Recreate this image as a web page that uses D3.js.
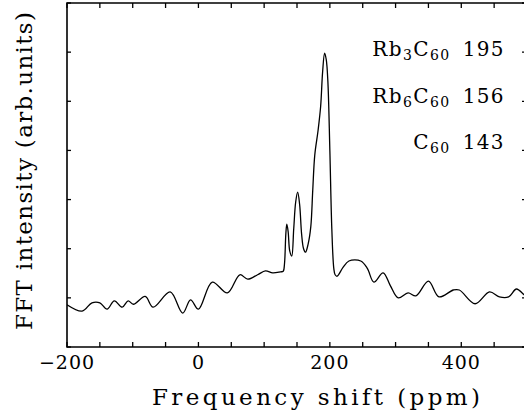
<!DOCTYPE html>
<html><head><meta charset="utf-8">
<script src="https://cdn.jsdelivr.net/npm/d3@7"></script>
<style>body{margin:0;background:#fff}svg{display:block}</style>
</head><body>
<svg id="c" width="524" height="415"></svg>
<script>
// data (ppm, FFT intensity arb. units)
const shiftPpm = [-200,-177,-162,-150,-139,-128,-116,-107,-99,-81,-69,-43,-24,-12,0,21,44,63,75,90,102,113,125,129,131,133,134.5,136.5,139,142,145,148,151,154,157,160,163,167,171,174,177,182,186,189,192,194.5,197,200,203,206,208,211,220,229,247,257,267,281,292,304,319,331,350,366,388,397,421,443,458,472,484,496,505];
const intensity = [0.86,0.73,0.9,0.9,0.77,0.94,0.81,0.94,0.87,1.03,0.81,1.12,0.69,0.96,0.77,1.32,1.1,1.47,1.38,1.47,1.55,1.51,1.53,1.54,1.7,2.3,2.5,2.35,1.95,1.85,2.4,2.95,3.15,2.9,2.3,2.0,1.93,2.1,2.45,3.2,3.9,4.4,4.9,5.6,5.98,5.85,5.4,4.0,2.4,1.6,1.47,1.44,1.62,1.75,1.75,1.6,1.32,1.51,1.25,1.0,1.1,1.04,1.34,1.02,1.16,1.16,0.88,1.12,1.02,1.02,1.18,1.06,1.0];
const majorTicks = [-200,0,200,400];
const majorLabels = ["\u2212200","0","200","400"];
const yTicks = [0,1,2,3,4,5,6,7];
const labels = [
  {pre:"Rb",s1:"3",mid:"C",s2:"60",val:"195"},
  {pre:"Rb",s1:"6",mid:"C",s2:"60",val:"156"},
  {pre:"",s1:"",mid:"C",s2:"60",val:"143"}
];

const FONT = "DejaVu Serif";
const svg = d3.select("#c");
const L=67, R=527, T=3, B=347;
const x = d3.scaleLinear().domain([-200,500]).range([L,R]);
const y = d3.scaleLinear().domain([0,7]).range([B,T]);

const g = svg.append("g");
// frame
g.append("path").attr("d",`M${L},${T}H${R}V${B}H${L}Z`).attr("fill","none").attr("stroke","#000").attr("stroke-width",1.6);

// x ticks (bottom & top), every 50
const minor = d3.range(-200,501,50);
g.selectAll(".xb").data(minor).join("line")
  .attr("x1",d=>x(d)).attr("x2",d=>x(d)).attr("y1",B).attr("y2",B-5)
  .attr("stroke","#000").attr("stroke-width",1.3);
g.selectAll(".xt").data(minor).join("line")
  .attr("x1",d=>x(d)).attr("x2",d=>x(d)).attr("y1",T).attr("y2",T+5)
  .attr("stroke","#000").attr("stroke-width",1.3);
// y ticks left & right
g.selectAll(".yl").data(yTicks).join("line")
  .attr("x1",L).attr("x2",L+4).attr("y1",d=>y(d)).attr("y2",d=>y(d))
  .attr("stroke","#000").attr("stroke-width",1.3);
g.selectAll(".yr").data(yTicks).join("line")
  .attr("x1",R).attr("x2",R-5).attr("y1",d=>y(d)).attr("y2",d=>y(d))
  .attr("stroke","#000").attr("stroke-width",1.3);

// tick labels
g.selectAll(".tl").data(majorTicks).join("text")
  .attr("font-family",FONT)
  .attr("x",d=>x(d)).attr("y",369).attr("text-anchor","middle")
  .attr("font-size",19).attr("letter-spacing",1)
  .text((d,i)=>majorLabels[i]);

// axis titles
g.append("text").attr("font-family",FONT).attr("x",152).attr("y",405)
  .attr("font-size",23).attr("textLength",328).attr("lengthAdjust","spacing").text("Frequency shift (ppm)");
g.append("text").attr("font-family",FONT).attr("transform","translate(32,330) rotate(-90)")
  .attr("font-size",23).attr("textLength",318).attr("lengthAdjust","spacing").text("FFT intensity (arb.units)");

// curve
const pts = shiftPpm.map((d,i)=>[d,intensity[i]]);
const line = d3.line().x(d=>x(d[0])).y(d=>y(d[1])).curve(d3.curveCatmullRom.alpha(0.5));
svg.append("defs").append("clipPath").attr("id","cp").append("rect").attr("x",L).attr("y",T).attr("width",R-L).attr("height",B-T);
g.append("path").datum(pts).attr("d",line).attr("fill","none").attr("stroke","#000").attr("stroke-width",1.3).attr("clip-path","url(#cp)");

// annotations
const ys=[56,103,149];
labels.forEach((l,i)=>{
  const t=g.append("text").attr("font-family",FONT).attr("x",505).attr("y",ys[i]).attr("text-anchor","end").attr("font-size",20).attr("letter-spacing",1.4);
  if(l.pre){t.append("tspan").attr("font-family",FONT).text(l.pre);
  t.append("tspan").attr("font-family",FONT).attr("font-size",14).attr("dy",4).text(l.s1);}
  t.append("tspan").attr("font-family",FONT).attr("dy",l.pre?-4:0).text(l.mid);
  t.append("tspan").attr("font-family",FONT).attr("font-size",14).attr("dy",4).text(l.s2);
  t.append("tspan").attr("font-family",FONT).attr("dy",-4).attr("dx",12).text(l.val);
});
</script>
</body></html>
